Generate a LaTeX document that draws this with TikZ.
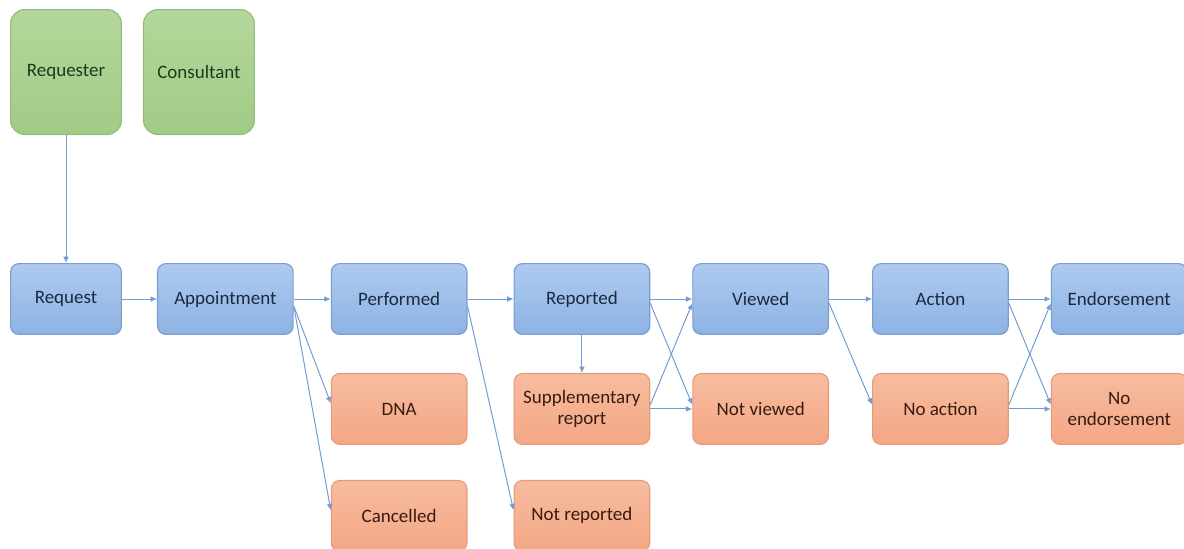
\documentclass[tikz,border=0pt]{standalone}
\usepackage{fontspec}
\setmainfont{Carlito}
\usetikzlibrary{positioning, arrows.meta}
\definecolor{stagetop}{HTML}{AECBF0}
\definecolor{stagebot}{HTML}{8DB2E2}
\definecolor{stageline}{HTML}{7A9DCC}
\definecolor{stagetext}{HTML}{1B2940}
\definecolor{outtop}{HTML}{F7BC9F}
\definecolor{outbot}{HTML}{F3A785}
\definecolor{outline}{HTML}{E59B78}
\definecolor{outtext}{HTML}{3A1A10}
\definecolor{actortop}{HTML}{B3D79B}
\definecolor{actorbot}{HTML}{A2CB86}
\definecolor{actorline}{HTML}{93BC7B}
\definecolor{actortext}{HTML}{1E3A1B}
\definecolor{flowblue}{HTML}{6F9DD3}
\tikzstyle{stage}=[draw=stageline, line width=.8pt, rounded corners=6pt, top color=stagetop, bottom color=stagebot, text=stagetext, minimum width=3.39cm, minimum height=1.77cm, align=center, font=\fontsize{13.5}{15.5}\selectfont]
\tikzstyle{outcome}=[stage, draw=outline, top color=outtop, bottom color=outbot, text=outtext]
\tikzstyle{actor}=[stage, draw=actorline, top color=actortop, bottom color=actorbot, text=actortext, rounded corners=10pt, minimum width=2.77cm, minimum height=3.12cm]
\tikzstyle{flow}=[-{Latex[length=4.5pt,width=4pt]}, draw=flowblue, line width=.7pt]

\begin{document}
\begin{tikzpicture}[x=0.025cm, y=-0.025cm, node distance=.95cm and .9cm]
\useasboundingbox (0,0) rectangle (1184,548);

% main path
\node[stage, minimum width=2.77cm](request) at (66,299){Request};
\node[stage, right=.875cm of request](appt){Appointment};
\node[stage, right=.925cm of appt](performed){Performed};
\node[stage, right=1.15cm of performed](reported){Reported};
\node[stage, right=1.05cm of reported](viewed){Viewed};
\node[stage, right=1.075cm of viewed](action){Action};
\node[stage, right=1.05cm of action](endorse){Endorsement};

% who is involved
\node[actor, above=3.2cm of request](requester){Requester};
\node[actor, right=.525cm of requester](consultant){Consultant};

% outcomes off the main path
\node[outcome, below=of performed](dna){DNA};
\node[outcome, below=.875cm of dna](cancelled){Cancelled};
\node[outcome, below=of reported](supp){Supplementary\\report};
\node[outcome, below=.875cm of supp](notrep){Not reported};
\node[outcome, below=of viewed](notviewed){Not viewed};
\node[outcome, below=of action](noaction){No action};
\node[outcome, below=of endorse](noendorse){No\\endorsement};

\draw[flow] (requester) -- (request);
\draw[flow] (request) -- (appt);
\draw[flow] (appt) -- (performed);
\draw[flow] (performed) -- (reported);
\draw[flow] (reported) -- (viewed);
\draw[flow] (viewed) -- (action);
\draw[flow] (action) -- (endorse);

\draw[flow] ([yshift=-5pt]appt.east) -- ([yshift=4pt]dna.west);
\draw[flow] ([yshift=-5pt]appt.east) -- ([yshift=4pt]cancelled.west);
\draw[flow] ([yshift=-5pt]performed.east) -- ([yshift=4pt]notrep.west);
\draw[flow] (reported) -- (supp);
\draw[flow] ([yshift=-3pt]reported.east) -- ([yshift=3pt]notviewed.west);
\draw[flow] ([yshift=3pt]supp.east) -- ([yshift=-3pt]viewed.west);
\draw[flow] (supp) -- (notviewed);
\draw[flow] ([yshift=-3pt]viewed.east) -- ([yshift=3pt]noaction.west);
\draw[flow] ([yshift=-3pt]action.east) -- ([yshift=3pt]noendorse.west);
\draw[flow] ([yshift=3pt]noaction.east) -- ([yshift=-3pt]endorse.west);
\draw[flow] (noaction) -- (noendorse);

\end{tikzpicture}
\end{document}
